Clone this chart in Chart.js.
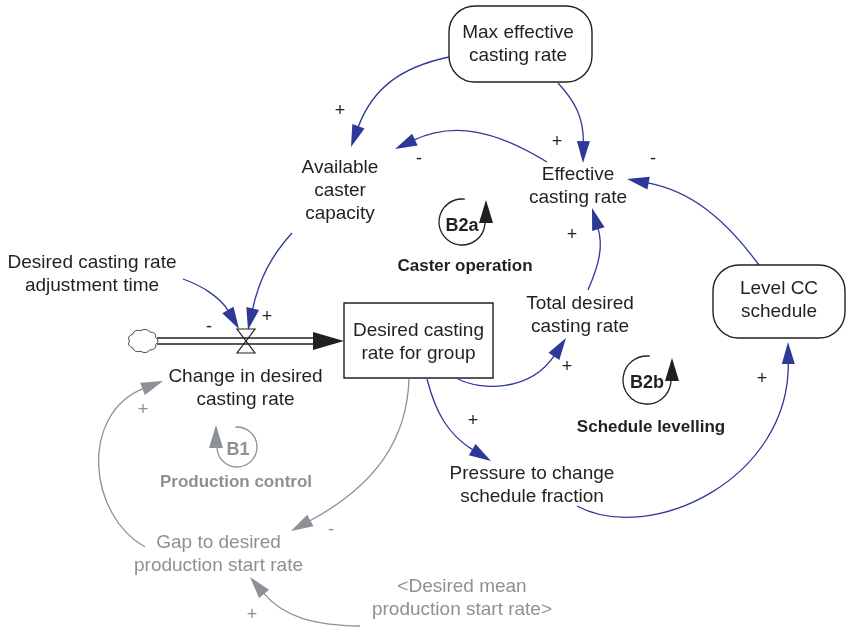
<!DOCTYPE html>
<html><head><meta charset="utf-8">
<script src="https://cdn.jsdelivr.net/npm/chart.js@4/dist/chart.umd.min.js"></script>
<style>html,body{margin:0;padding:0;background:#fff}canvas{display:block}</style>
</head><body>
<canvas id="c" width="846" height="630"></canvas>
<script>
// ---- DATA ----
const variableLabels = [
  "Max effective\ncasting rate", "Available\ncaster\ncapacity", "Effective\ncasting rate",
  "Desired casting rate\nadjustment time", "Desired casting\nrate for group", "Total desired\ncasting rate",
  "Level CC\nschedule", "Change in desired\ncasting rate", "Pressure to change\nschedule fraction",
  "Gap to desired\nproduction start rate", "<Desired mean\nproduction start rate>"
];
const variableX = [518, 340, 578, 92, 418.5, 580, 779, 245.5, 532, 218.5, 462];
const variableY = [44, 191, 186, 274.5, 342, 315.5, 300.5, 388.5, 485, 554.5, 598];
const loopIds = ["B2a", "B2b", "B1"];
const loopNames = ["Caster operation", "Schedule levelling", "Production control"];
const linkFrom = [0, 2, 0, 6, 5, 3, 1, 4, 4, 8, 4, 9, 10];
const linkTo   = [1, 1, 2, 2, 2, 7, 7, 5, 8, 6, 9, 7, 9];
const linkSigns = ["+", "-", "+", "-", "+", "-", "+", "+", "+", "+", "-", "+", "+"];

// ---- LAYOUT / STYLE ----
const grayVars = [9, 10];
const grayLinks = [10, 11, 12];
const grayLoops = [2];
const boxRounded = {0: [449, 6, 592, 82], 6: [713, 265, 845, 338]};
const boxRect = {4: [344, 303, 493, 378]};
// link paths (data coords): quadratic [x0,y0,cx,cy,x1,y1] or cubic [x0,y0,c1x,c1y,c2x,c2y,x1,y1]
const linkPaths = [
  [449, 57, 378, 72, 351, 147],
  [547, 162, 469, 114, 395, 149],
  [558, 83, 584, 111, 583, 163],
  [759, 265, 707, 194, 627, 179],
  [588, 290, 605, 251, 592, 208],
  [183, 279, 200, 285, 225, 305, 239, 329],
  [292, 233, 262, 266, 248, 330],
  [458, 379, 480, 390, 535, 385, 566, 338],
  [427, 379, 440, 430, 491, 461],
  [577, 506, 650, 545, 790, 470, 788, 342],
  [409, 379, 406, 469, 291, 531],
  [145, 547, 88, 515, 88, 410, 163, 381],
  [360, 626, 290, 625, 250, 577]
];
const signPos = [
  [340, 111], [419, 159], [557, 142], [653, 159], [572, 235], [209, 327], [267, 317],
  [567, 367], [473, 421], [762, 379], [331, 530], [143, 410], [252, 615]
];
const loopCircle = [[462, 222, 23, 1], [647, 380, 24, 1], [237, 447, 20, -1]];
const loopIdPos = [[462, 226], [647, 383], [238, 450]];
const loopNamePos = [[465, 266], [651, 427], [236, 482]];

const BLUE = '#2E3896', INK = '#231F20', GRAY = '#8B9197';
const FONT = '"Liberation Sans", Arial, Helvetica, sans-serif';

const diagramPlugin = {
  id: 'diagram',
  afterDatasetsDraw(chart) {
    const ctx = chart.ctx;
    const sx = chart.scales.x, sy = chart.scales.y;
    const X = v => sx.getPixelForValue(v), Y = v => sy.getPixelForValue(v);
    ctx.save();
    ctx.lineCap = 'butt';

    function arrowHead(tx, ty, dx, dy, len, hw, col) {
      const d = Math.hypot(dx, dy); const ux = dx / d, uy = dy / d;
      const bx = tx - ux * len, by = ty - uy * len;
      ctx.beginPath();
      ctx.moveTo(tx, ty);
      ctx.lineTo(bx - uy * hw, by + ux * hw);
      ctx.lineTo(bx + uy * hw, by - ux * hw);
      ctx.closePath();
      ctx.fillStyle = col; ctx.fill();
    }

    // links
    linkPaths.forEach((p, i) => {
      const col = grayLinks.includes(i) ? GRAY : BLUE;
      let pts = [];
      for (let k = 0; k < p.length; k += 2) pts.push([X(p[k]), Y(p[k + 1])]);
      if (pts.length === 3) {
        const [a, c, b] = pts;
        pts = [a, [a[0] + 2 / 3 * (c[0] - a[0]), a[1] + 2 / 3 * (c[1] - a[1])],
               [b[0] + 2 / 3 * (c[0] - b[0]), b[1] + 2 / 3 * (c[1] - b[1])], b];
      }
      const [a, c1, c2, b] = pts;
      const dx = b[0] - c2[0], dy = b[1] - c2[1];
      const d = Math.hypot(dx, dy);
      const len = 22;
      const ex = b[0] - dx / d * (len - 2), ey = b[1] - dy / d * (len - 2);
      const c2x = c2[0] - dx / d * (len - 2) * 0.5, c2y = c2[1] - dy / d * (len - 2) * 0.5;
      ctx.beginPath();
      ctx.moveTo(a[0], a[1]);
      ctx.bezierCurveTo(c1[0], c1[1], c2x, c2y, ex, ey);
      ctx.strokeStyle = col; ctx.lineWidth = 1.3; ctx.stroke();
      arrowHead(b[0], b[1], dx, dy, len, 6.5, col);
    });

    // flow pipe
    const py = Y(341);
    ctx.strokeStyle = INK; ctx.lineWidth = 1.4;
    ctx.beginPath(); ctx.moveTo(X(157), py - 3); ctx.lineTo(X(316), py - 3); ctx.stroke();
    ctx.beginPath(); ctx.moveTo(X(157), py + 3); ctx.lineTo(X(316), py + 3); ctx.stroke();
    arrowHead(X(344), py, 1, 0, 31, 9, INK);
    // valve
    const vx = X(246), vy = py;
    ctx.lineWidth = 1.2;
    ctx.beginPath();
    ctx.moveTo(vx - 9, vy - 12); ctx.lineTo(vx + 9, vy - 12); ctx.lineTo(vx, vy);
    ctx.closePath(); ctx.stroke();
    ctx.beginPath();
    ctx.moveTo(vx - 9, vy + 12); ctx.lineTo(vx + 9, vy + 12); ctx.lineTo(vx, vy);
    ctx.closePath(); ctx.stroke();
    // cloud
    const ccx = X(143), ccy = py, rx = 13.5, ry = 10.5, nb = 9;
    ctx.beginPath();
    for (let k = 0; k <= nb; k++) {
      const t = -Math.PI + k / nb * Math.PI * 2;
      const px = ccx + rx * Math.cos(t), pyy = ccy + ry * Math.sin(t);
      if (k === 0) { ctx.moveTo(px, pyy); continue; }
      const tm = t - Math.PI / nb;
      ctx.quadraticCurveTo(ccx + rx * 1.3 * Math.cos(tm), ccy + ry * 1.3 * Math.sin(tm), px, pyy);
    }
    ctx.closePath();
    ctx.fillStyle = '#fff'; ctx.fill();
    ctx.lineWidth = 1; ctx.strokeStyle = '#444'; ctx.stroke();

    // boxes
    ctx.strokeStyle = INK; ctx.lineWidth = 1.4;
    Object.values(boxRounded).forEach(b => {
      ctx.beginPath();
      ctx.roundRect(X(b[0]), Y(b[1]), X(b[2]) - X(b[0]), Y(b[3]) - Y(b[1]), 26);
      ctx.stroke();
    });
    Object.values(boxRect).forEach(b => {
      ctx.beginPath();
      ctx.rect(X(b[0]), Y(b[1]), X(b[2]) - X(b[0]), Y(b[3]) - Y(b[1]));
      ctx.stroke();
    });

    // variable texts
    ctx.textAlign = 'center'; ctx.textBaseline = 'middle';
    variableLabels.forEach((lab, i) => {
      const lines = lab.split('\n');
      ctx.font = '19px ' + FONT;
      ctx.fillStyle = grayVars.includes(i) ? GRAY : INK;
      lines.forEach((ln, j) => {
        ctx.fillText(ln, X(variableX[i]), Y(variableY[i] + (j - (lines.length - 1) / 2) * 23));
      });
    });

    // signs
    ctx.font = '18px ' + FONT;
    linkSigns.forEach((s, i) => {
      ctx.fillStyle = grayLinks.includes(i) ? GRAY : INK;
      ctx.fillText(s, X(signPos[i][0]), Y(signPos[i][1]));
    });

    // loops
    loopIds.forEach((id, i) => {
      const col = grayLoops.includes(i) ? GRAY : INK;
      const [cx0, cy0, r, dir] = loopCircle[i];
      const cx = X(cx0), cy = Y(cy0);
      ctx.strokeStyle = col; ctx.lineWidth = 1.3;
      ctx.beginPath();
      if (dir > 0) ctx.arc(cx, cy, r, -83 * Math.PI / 180, 0, true);
      else ctx.arc(cx, cy, r, -95 * Math.PI / 180, Math.PI, false);
      ctx.stroke();
      const ax = dir > 0 ? cx + r + 1 : cx - r - 1;
      arrowHead(ax, cy - 22, 0, -1, 23, 7, col);
      ctx.fillStyle = col;
      ctx.font = 'bold 18px ' + FONT;
      ctx.fillText(id, X(loopIdPos[i][0]), Y(loopIdPos[i][1]));
      ctx.font = 'bold 17px ' + FONT;
      ctx.fillText(loopNames[i], X(loopNamePos[i][0]), Y(loopNamePos[i][1]));
    });
    ctx.restore();
  }
};

new Chart(document.getElementById('c'), {
  type: 'scatter',
  data: {
    datasets: [{
      data: variableX.map((x, i) => ({x: x, y: variableY[i]})),
      pointRadius: 0, showLine: false
    }]
  },
  options: {
    responsive: false, animation: false,
    layout: {padding: 0},
    plugins: {legend: {display: false}, tooltip: {enabled: false}, title: {display: false}},
    scales: {
      x: {type: 'linear', min: 0, max: 846, display: false},
      y: {type: 'linear', min: 0, max: 630, reverse: true, display: false}
    }
  },
  plugins: [diagramPlugin]
});
</script>
</body></html>
